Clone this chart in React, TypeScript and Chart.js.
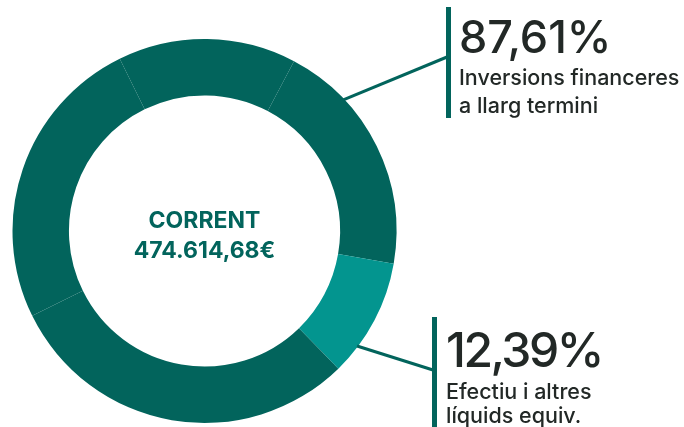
import React, { useEffect, useRef } from "react";
import { Chart, registerables } from "chart.js";

Chart.register(...registerables);

// Data
const segmentLabels = ["Inversions 1", "Efectiu", "Inversions 2", "Inversions 3", "Inversions 4"];
const segmentValues = [20, 10, 30, 25, 15];
const segmentGroups = ["inv", "cash", "inv", "inv", "inv"];
const pctLabels = ["87,61%", "12,39%"];
const catLabelsInv = ["Inversions financeres", "a llarg termini"];
const catLabelsCash = ["Efectiu i altres", "líquids equiv."];
const centerTitle = "CORRENT";
const centerValue = "474.614,68€";

const DARK = "#02645c";
const LIGHT = "#03958f";
const TEXT = "#222826";
const FONT = "Inter, 'Open Sans', sans-serif";

const groupColor: Record<string, string> = { inv: DARK, cash: LIGHT };

// annotation geometry (angle in degrees clockwise from top on outer edge, end point)
const leaders = [
  { angle: 46.6, endX: 447, endY: 57, barX: 446, barTop: 7, barBottom: 118 },
  { angle: 127, endX: 433, endY: 370, barX: 432, barTop: 317, barBottom: 427 },
];

const leaderPlugin = {
  id: "leaders",
  afterDraw(chart: any) {
    const arc = chart.getDatasetMeta(0).data[0];
    if (!arc) return;
    const { x, y, outerRadius } = arc.getProps(["x", "y", "outerRadius"], true);
    const ctx = chart.ctx;
    ctx.save();
    leaders.forEach((l) => {
      const a = ((l.angle - 90) * Math.PI) / 180;
      const sx = x + (outerRadius - 1) * Math.cos(a);
      const sy = y + (outerRadius - 1) * Math.sin(a);
      ctx.strokeStyle = DARK;
      ctx.lineWidth = 3;
      ctx.beginPath();
      ctx.moveTo(sx, sy);
      ctx.lineTo(l.endX, l.endY);
      ctx.stroke();
      ctx.fillStyle = DARK;
      ctx.fillRect(l.barX, l.barTop, 5, l.barBottom - l.barTop);
    });
    ctx.restore();
  },
};

export default function App() {
  const ref = useRef<HTMLCanvasElement>(null);
  useEffect(() => {
    if (!ref.current) return;
    const chart = new Chart(ref.current, {
      type: "doughnut",
      data: {
        labels: segmentLabels,
        datasets: [
          {
            data: segmentValues,
            backgroundColor: segmentGroups.map((g) => groupColor[g]),
            borderWidth: 0,
            hoverOffset: 0,
          },
        ],
      },
      options: {
        responsive: false,
        animation: false,
        devicePixelRatio: 1,
        cutout: "70.6%",
        rotation: 27.8,
        layout: { padding: { left: 12, top: 39, right: 287, bottom: 4 } },
        plugins: { legend: { display: false }, tooltip: { enabled: false } },
        events: [],
      },
      plugins: [leaderPlugin],
    });
    return () => chart.destroy();
  }, []);

  const abs: React.CSSProperties = {
    position: "absolute",
    margin: 0,
    whiteSpace: "nowrap",
    fontFamily: FONT,
  };
  return (
    <div style={{ position: "absolute", left: 0, top: 0, width: 684, height: 427, overflow: "hidden", background: "#fff" }}>
      <canvas ref={ref} width={684} height={427} style={{ position: "absolute", left: 0, top: 0 }} />
      <div
        style={{
          ...abs,
          left: 54.5,
          width: 300,
          top: 204.6,
          textAlign: "center",
          fontWeight: 700,
          fontSize: 23,
          lineHeight: "30px",
          color: DARK,
        }}
      >
        <div>{centerTitle}</div>
        <div>{centerValue}</div>
      </div>
      <div style={{ ...abs, left: 459, top: 14.2, fontWeight: 500, fontSize: 45, lineHeight: "45px", color: TEXT }}>
        {pctLabels[0]}
      </div>
      <div style={{ ...abs, left: 459, top: 63, fontWeight: 500, fontSize: 21.5, lineHeight: "28px", color: TEXT }}>
        {catLabelsInv.map((t) => (
          <div key={t}>{t}</div>
        ))}
      </div>
      <div style={{ ...abs, left: 446, top: 324, fontWeight: 500, fontSize: 48, lineHeight: "52px", letterSpacing: -2.5, color: TEXT }}>
        {pctLabels[1]}
      </div>
      <div style={{ ...abs, left: 446, top: 379, fontWeight: 500, fontSize: 21.5, lineHeight: "24px", color: TEXT }}>
        {catLabelsCash.map((t) => (
          <div key={t}>{t}</div>
        ))}
      </div>
    </div>
  );
}
